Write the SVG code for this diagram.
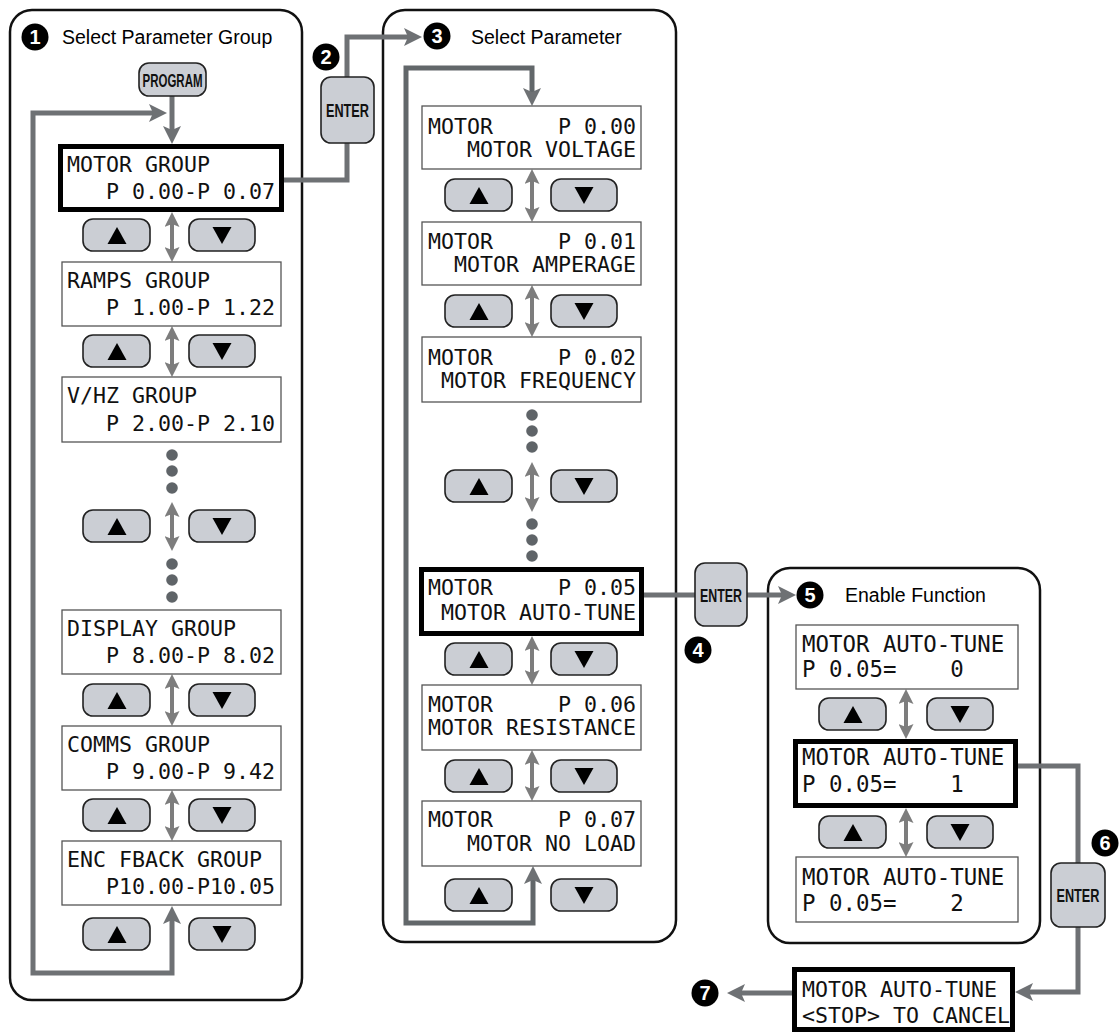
<svg xmlns="http://www.w3.org/2000/svg" width="1119" height="1032" viewBox="0 0 1119 1032">
<style>
.panel{fill:#fff;stroke:#111;stroke-width:2.5}
.lcd{fill:#fff;stroke:#555;stroke-width:1.3}
.lcdB{fill:#fff;stroke:#000;stroke-width:5}
.t{font-family:"DejaVu Sans Mono","Liberation Mono",monospace;font-size:21.6px;fill:#111;white-space:pre}
.t3{font-size:22.4px}
.btn{fill:#cbced4;stroke:#222;stroke-width:1.6}
.key{font-family:"Liberation Sans",Arial,sans-serif;font-weight:bold;font-size:19px;fill:#111;text-anchor:middle}
.title{font-family:"Liberation Sans",Arial,sans-serif;font-size:19.5px;fill:#000}
.num{font-family:"Liberation Sans",Arial,sans-serif;font-weight:bold;font-size:20px;fill:#fff;text-anchor:middle}
.con{fill:none;stroke:#6e7174;stroke-width:5}
.dbl{fill:none;stroke:#7d7d7d;stroke-width:4;marker-start:url(#dh);marker-end:url(#dh)}
.dot{fill:#5f6468}
</style>
<defs>
<marker id="ah" viewBox="0 0 18 18" refX="8" refY="9" markerWidth="18" markerHeight="18" markerUnits="userSpaceOnUse" orient="auto-start-reverse"><path d="M0,0 L18,9 L0,18 L4,9 Z" fill="#6e7174"/></marker>
<marker id="dh" viewBox="0 0 15 15" refX="6" refY="7.5" markerWidth="15" markerHeight="15" markerUnits="userSpaceOnUse" orient="auto-start-reverse"><path d="M0,0 L15,7.5 L0,15 L3,7.5 Z" fill="#7d7d7d"/></marker>
<g id="up"><rect x="0" y="0" width="67" height="32" rx="10" class="btn"/><path d="M24.5,25 L43.5,25 L34,8 Z" fill="#000"/></g>
<g id="dn"><rect x="0" y="0" width="66" height="32" rx="10" class="btn"/><path d="M23.5,8 L42.5,8 L33,25 Z" fill="#000"/></g>
</defs>
<rect width="1119" height="1032" fill="#fff"/>

<!-- panels -->
<g id="panel1"><rect x="10" y="10" width="292" height="990" rx="22" class="panel"/></g>
<g id="panel2"><rect x="383" y="10" width="293" height="932" rx="22" class="panel"/></g>
<g id="panel3"><rect x="768" y="568" width="272" height="375" rx="22" class="panel"/></g>

<!-- connectors -->
<g id="connectors">
<path class="con" d="M172,96 V134" marker-end="url(#ah)"/>
<path class="con" d="M157,113 H33 V973 H172 V916" marker-start="url(#ah)" marker-end="url(#ah)"/>
<path class="con" d="M283,180 H347 V143"/>
<path class="con" d="M347,77 V37 H412" marker-end="url(#ah)"/>
<path class="con" style="stroke:#62676a" d="M532,96 V68 H406 V923 H533 V876" marker-start="url(#ah)" marker-end="url(#ah)"/>
<path class="con" d="M644,595 H695"/>
<path class="con" d="M747,595 H786" marker-end="url(#ah)"/>
<path class="con" d="M1018,766 H1078 V863"/>
<path class="con" d="M1078,927 V992 H1025" marker-end="url(#ah)"/>
<path class="con" d="M792,993 H737" marker-end="url(#ah)"/>
<path class="dbl" d="M172,221 V253"/>
<path class="dbl" d="M172,335 V368"/>
<path class="dbl" d="M172,511 V542"/>
<path class="dbl" d="M172,683 V717"/>
<path class="dbl" d="M172,799 V832"/>
<path class="dbl" d="M532,178 V213"/>
<path class="dbl" d="M532,294 V328"/>
<path class="dbl" d="M532,471 V503"/>
<path class="dbl" d="M532,645 V676"/>
<path class="dbl" d="M532,759 V792"/>
<path class="dbl" d="M906,698 V730"/>
<path class="dbl" d="M906,817 V848"/>
</g>

<!-- step markers and titles -->
<g id="step1"><circle cx="35" cy="37" r="13.5" fill="#000"/><text x="35" y="44" class="num">1</text><text x="62" y="44" class="title">Select Parameter Group</text></g>
<g id="step2"><circle cx="326" cy="57" r="13.5" fill="#000"/><text x="326" y="64" class="num">2</text></g>
<g id="step3"><circle cx="437" cy="36" r="13.5" fill="#000"/><text x="437" y="43" class="num">3</text><text x="471" y="44" class="title">Select Parameter</text></g>
<g id="step4"><circle cx="698" cy="650" r="13.5" fill="#000"/><text x="698" y="657" class="num">4</text></g>
<g id="step5"><circle cx="810" cy="595" r="13.5" fill="#000"/><text x="810" y="602" class="num">5</text><text x="845" y="602" class="title">Enable Function</text></g>
<g id="step6"><circle cx="1105" cy="843" r="13.5" fill="#000"/><text x="1105" y="850" class="num">6</text></g>
<g id="step7"><circle cx="705" cy="993" r="13.5" fill="#000"/><text x="705" y="1000" class="num">7</text></g>

<!-- keys -->
<g id="key-program"><rect x="139" y="63" width="67" height="33" rx="10" class="btn"/><text x="172.5" y="86.5" class="key" textLength="60" lengthAdjust="spacingAndGlyphs">PROGRAM</text></g>
<g id="key-enter2"><rect x="321" y="77" width="53" height="66" rx="10" class="btn"/><text x="347.5" y="117" class="key" textLength="43" lengthAdjust="spacingAndGlyphs">ENTER</text></g>
<g id="key-enter4"><rect x="695" y="563" width="52" height="63" rx="10" class="btn"/><text x="721" y="602" class="key" textLength="42" lengthAdjust="spacingAndGlyphs">ENTER</text></g>
<g id="key-enter6"><rect x="1051" y="863" width="54" height="64" rx="10" class="btn"/><text x="1078" y="902" class="key" textLength="43" lengthAdjust="spacingAndGlyphs">ENTER</text></g>

<!-- panel 1 displays -->
<g id="p1-motor"><rect x="60.5" y="146.5" width="221" height="63" class="lcdB"/><text x="67" y="172" class="t" xml:space="preserve">MOTOR GROUP</text><text x="67" y="199" class="t" xml:space="preserve">   P 0.00-P 0.07</text></g>
<g id="p1-ramps"><rect x="62" y="262" width="219" height="64" class="lcd"/><text x="67" y="288" class="t" xml:space="preserve">RAMPS GROUP</text><text x="67" y="315" class="t" xml:space="preserve">   P 1.00-P 1.22</text></g>
<g id="p1-vhz"><rect x="62" y="377" width="219" height="65" class="lcd"/><text x="67" y="403" class="t" xml:space="preserve">V/HZ GROUP</text><text x="67" y="431" class="t" xml:space="preserve">   P 2.00-P 2.10</text></g>
<g id="p1-display"><rect x="62" y="610" width="219" height="64" class="lcd"/><text x="67" y="636" class="t" xml:space="preserve">DISPLAY GROUP</text><text x="67" y="663" class="t" xml:space="preserve">   P 8.00-P 8.02</text></g>
<g id="p1-comms"><rect x="62" y="726" width="219" height="64" class="lcd"/><text x="67" y="752" class="t" xml:space="preserve">COMMS GROUP</text><text x="67" y="779" class="t" xml:space="preserve">   P 9.00-P 9.42</text></g>
<g id="p1-enc"><rect x="62" y="841" width="219" height="64" class="lcd"/><text x="67" y="867" class="t" xml:space="preserve">ENC FBACK GROUP</text><text x="67" y="894" class="t" xml:space="preserve">   P10.00-P10.05</text></g>
<g id="p1-dots"><circle cx="172" cy="455" r="5.8" class="dot"/><circle cx="172" cy="471" r="5.8" class="dot"/><circle cx="172" cy="488" r="5.8" class="dot"/><circle cx="172" cy="564" r="5.8" class="dot"/><circle cx="172" cy="580" r="5.8" class="dot"/><circle cx="172" cy="597" r="5.8" class="dot"/></g>
<g id="p1-buttons">
<use href="#up" x="83" y="219"/><use href="#dn" x="189" y="219"/>
<use href="#up" x="83" y="335"/><use href="#dn" x="189" y="335"/>
<use href="#up" x="83" y="510"/><use href="#dn" x="189" y="510"/>
<use href="#up" x="83" y="684"/><use href="#dn" x="189" y="684"/>
<use href="#up" x="83" y="799"/><use href="#dn" x="189" y="799"/>
<use href="#up" x="83" y="918"/><use href="#dn" x="189" y="918"/>
</g>

<!-- panel 2 displays -->
<g id="p2-000"><rect x="422" y="106" width="219" height="63" class="lcd"/><text x="428" y="134" class="t" xml:space="preserve">MOTOR     P 0.00</text><text x="428" y="157" class="t" xml:space="preserve">   MOTOR VOLTAGE</text></g>
<g id="p2-001"><rect x="422" y="222" width="219" height="63" class="lcd"/><text x="428" y="249" class="t" xml:space="preserve">MOTOR     P 0.01</text><text x="428" y="272" class="t" xml:space="preserve">  MOTOR AMPERAGE</text></g>
<g id="p2-002"><rect x="422" y="337" width="219" height="65" class="lcd"/><text x="428" y="365" class="t" xml:space="preserve">MOTOR     P 0.02</text><text x="428" y="388" class="t" xml:space="preserve"> MOTOR FREQUENCY</text></g>
<g id="p2-005"><rect x="421.5" y="569.5" width="220" height="64" class="lcdB"/><text x="428" y="595" class="t" xml:space="preserve">MOTOR     P 0.05</text><text x="428" y="620" class="t" xml:space="preserve"> MOTOR AUTO-TUNE</text></g>
<g id="p2-006"><rect x="422" y="685" width="219" height="65" class="lcd"/><text x="428" y="712" class="t" xml:space="preserve">MOTOR     P 0.06</text><text x="428" y="735" class="t" xml:space="preserve">MOTOR RESISTANCE</text></g>
<g id="p2-007"><rect x="422" y="801" width="219" height="65" class="lcd"/><text x="428" y="827" class="t" xml:space="preserve">MOTOR     P 0.07</text><text x="428" y="851" class="t" xml:space="preserve">   MOTOR NO LOAD</text></g>
<g id="p2-dots"><circle cx="532" cy="415" r="5.8" class="dot"/><circle cx="532" cy="431" r="5.8" class="dot"/><circle cx="532" cy="447" r="5.8" class="dot"/><circle cx="532" cy="524" r="5.8" class="dot"/><circle cx="532" cy="540" r="5.8" class="dot"/><circle cx="532" cy="556" r="5.8" class="dot"/></g>
<g id="p2-buttons">
<use href="#up" x="445" y="179"/><use href="#dn" x="551" y="179"/>
<use href="#up" x="445" y="295"/><use href="#dn" x="551" y="295"/>
<use href="#up" x="445" y="470"/><use href="#dn" x="551" y="470"/>
<use href="#up" x="445" y="643"/><use href="#dn" x="551" y="643"/>
<use href="#up" x="445" y="760"/><use href="#dn" x="551" y="760"/>
<use href="#up" x="445" y="879"/><use href="#dn" x="551" y="879"/>
</g>

<!-- panel 3 displays -->
<g id="p3-0"><rect x="796" y="625" width="222" height="64" class="lcd"/><text x="802" y="652" class="t t3" xml:space="preserve">MOTOR AUTO-TUNE</text><text x="802" y="677" class="t t3" xml:space="preserve">P 0.05=    0</text></g>
<g id="p3-1"><rect x="795.5" y="741.5" width="220" height="64" class="lcdB"/><text x="802" y="765" class="t t3" xml:space="preserve">MOTOR AUTO-TUNE</text><text x="802" y="792" class="t t3" xml:space="preserve">P 0.05=    1</text></g>
<g id="p3-2"><rect x="796" y="857" width="222" height="65" class="lcd"/><text x="802" y="885" class="t t3" xml:space="preserve">MOTOR AUTO-TUNE</text><text x="802" y="911" class="t t3" xml:space="preserve">P 0.05=    2</text></g>
<g id="p3-buttons">
<use href="#up" x="819" y="698"/><use href="#dn" x="927" y="698"/>
<use href="#up" x="819" y="816"/><use href="#dn" x="927" y="816"/>
</g>

<!-- final display -->
<g id="final"><rect x="794.5" y="969.5" width="218" height="60" class="lcdB"/><text x="802" y="997" class="t" xml:space="preserve">MOTOR AUTO-TUNE</text><text x="802" y="1023" class="t" xml:space="preserve">&lt;STOP&gt; TO CANCEL</text></g>
</svg>
